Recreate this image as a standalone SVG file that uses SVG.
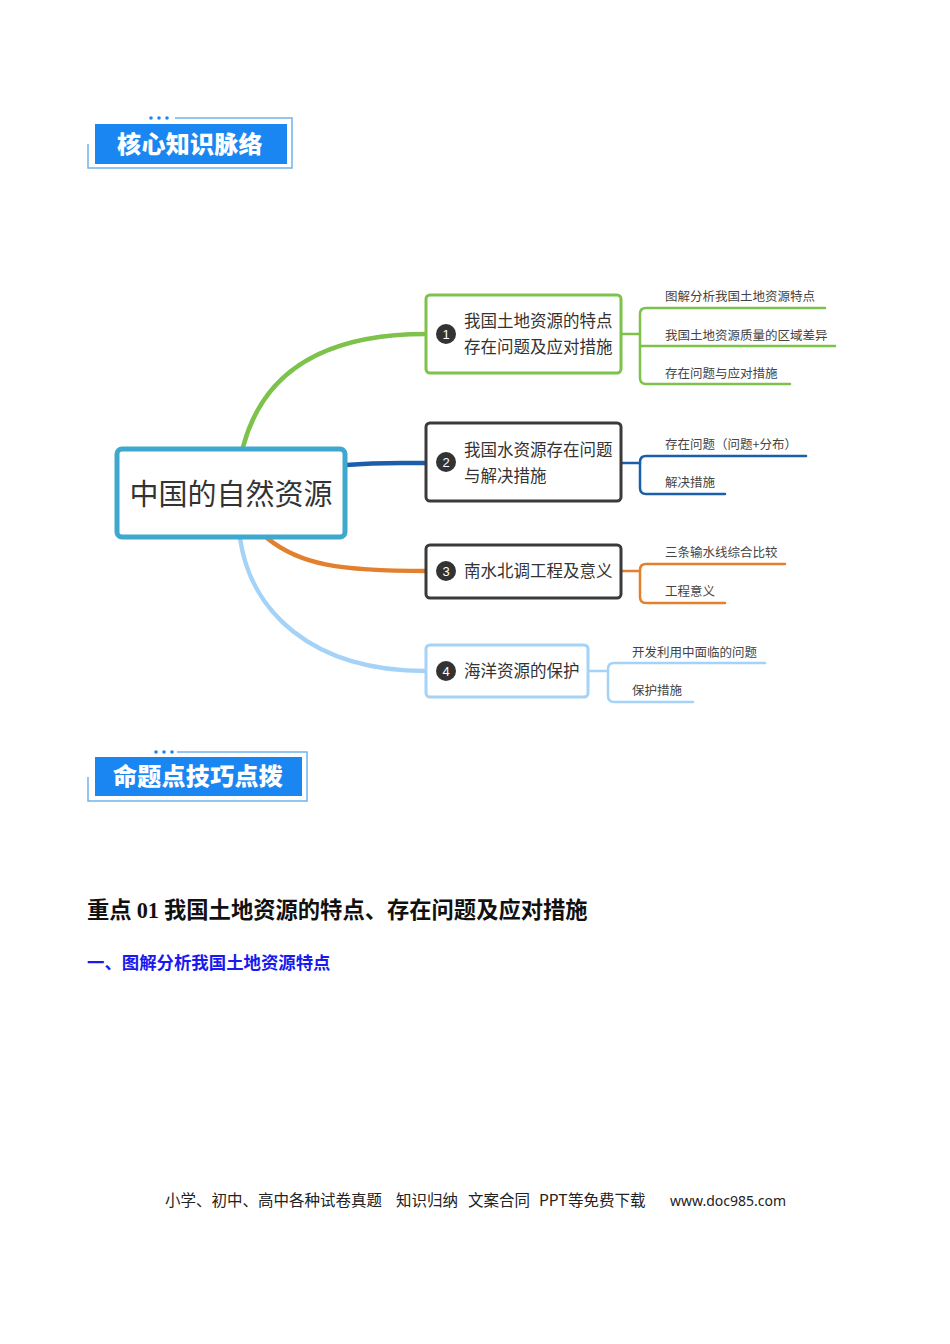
<svg xmlns="http://www.w3.org/2000/svg" width="950" height="1344" viewBox="0 0 950 1344">
<style>
.cjk{font-family:"Noto Sans CJK SC","Noto Sans",sans-serif}
.hdr{font-family:"Noto Sans CJK SC",sans-serif;font-weight:900;font-size:24px;fill:#fff;letter-spacing:0.3px}
.frame{fill:none;stroke:#6fb2ee;stroke-width:1.5}
.node{fill:#fff;stroke-width:3}
.nt{font-family:"Noto Sans CJK SC",sans-serif;font-size:16.5px;fill:#333}
.lbl{font-family:"Noto Sans CJK SC",sans-serif;font-size:12.5px;fill:#444}
.num{font-family:"Liberation Sans",sans-serif;font-size:13px;fill:#fff;text-anchor:middle}
.br{fill:none;stroke-width:2.5;stroke-linecap:round}
.main{fill:none;stroke-width:4.5;stroke-linecap:round}
</style>
<rect width="950" height="1344" fill="#fff"/>

<g id="header1">
<path class="frame" d="M175,118 H292 V168 H88 V144"/>
<circle cx="151" cy="118" r="1.8" fill="#1e88f0"/>
<circle cx="159" cy="118" r="1.8" fill="#1e88f0"/>
<circle cx="167" cy="118" r="1.8" fill="#1e88f0"/>
<rect x="95" y="124" width="192" height="40" fill="#1a86f2"/>
<text class="hdr" x="190" y="153" text-anchor="middle">核心知识脉络</text>
</g>

<g id="connectors">
<path class="main" stroke="#7dc24a" d="M243,447 C262,375 320,334 426,334"/>
<path class="main" stroke="#1b5faa" d="M346,465 C380,462 400,463 426,463"/>
<path class="main" stroke="#e3802e" d="M267,538 C300,565 340,571 426,571"/>
<path class="main" stroke="#a5d2f7" d="M240,538 C250,610 310,671 426,671"/>

<path class="br" stroke="#7dc24a" d="M621,334 H640"/>
<path class="br" stroke="#7dc24a" d="M825,308 H646 Q640,308 640,314 V378 Q640,384 646,384 H790"/>
<path class="br" stroke="#7dc24a" d="M640,346 H835"/>

<path class="br" stroke="#1b5faa" d="M621,463 H640"/>
<path class="br" stroke="#1b5faa" d="M806,456 H646 Q640,456 640,462 V488 Q640,494 646,494 H725"/>

<path class="br" stroke="#e3802e" d="M621,571 H640"/>
<path class="br" stroke="#e3802e" d="M785,564 H646 Q640,564 640,570 V597 Q640,603 646,603 H725"/>

<path class="br" stroke="#a5d2f7" d="M588,671 H608"/>
<path class="br" stroke="#a5d2f7" d="M765,663 H614 Q608,663 608,669 V696 Q608,702 614,702 H693"/>
</g>

<g id="center">
<rect x="117" y="449" width="228" height="88" rx="5" fill="#fff" stroke="#3ea8cf" stroke-width="5"/>
<text class="cjk" x="231" y="505" font-size="29" fill="#333" text-anchor="middle">中国的自然资源</text>
</g>

<g id="node1">
<rect class="node" x="426" y="295" width="195" height="78" rx="4" stroke="#7dc24a"/>
<circle cx="446" cy="334" r="10" fill="#333"/>
<text class="num" x="446" y="338.5">1</text>
<text class="nt" x="464" y="327">我国土地资源的特点</text>
<text class="nt" x="464" y="353">存在问题及应对措施</text>
<text class="lbl" x="665" y="301">图解分析我国土地资源特点</text>
<text class="lbl" x="665" y="340">我国土地资源质量的区域差异</text>
<text class="lbl" x="665" y="378">存在问题与应对措施</text>
</g>

<g id="node2">
<rect class="node" x="426" y="423" width="195" height="78" rx="4" stroke="#3a3a3a"/>
<circle cx="446" cy="462" r="10" fill="#333"/>
<text class="num" x="446" y="466.5">2</text>
<text class="nt" x="464" y="456">我国水资源存在问题</text>
<text class="nt" x="464" y="482">与解决措施</text>
<text class="lbl" x="665" y="449">存在问题（问题+分布）</text>
<text class="lbl" x="665" y="487">解决措施</text>
</g>

<g id="node3">
<rect class="node" x="426" y="545" width="195" height="53" rx="4" stroke="#3a3a3a"/>
<circle cx="446" cy="571" r="10" fill="#333"/>
<text class="num" x="446" y="575.5">3</text>
<text class="nt" x="464" y="577">南水北调工程及意义</text>
<text class="lbl" x="665" y="557">三条输水线综合比较</text>
<text class="lbl" x="665" y="596">工程意义</text>
</g>

<g id="node4">
<rect class="node" x="426" y="645" width="162" height="52" rx="4" stroke="#a5d2f7"/>
<circle cx="446" cy="671" r="10" fill="#333"/>
<text class="num" x="446" y="675.5">4</text>
<text class="nt" x="464" y="677">海洋资源的保护</text>
<text class="lbl" x="632" y="657">开发利用中面临的问题</text>
<text class="lbl" x="632" y="695">保护措施</text>
</g>

<g id="header2">
<path class="frame" d="M177,752 H307 V801 H88 V777"/>
<circle cx="156" cy="752" r="1.8" fill="#1e88f0"/>
<circle cx="164" cy="752" r="1.8" fill="#1e88f0"/>
<circle cx="172" cy="752" r="1.8" fill="#1e88f0"/>
<rect x="95" y="757" width="207" height="39" fill="#1a86f2"/>
<text class="hdr" x="198" y="785" text-anchor="middle">命题点技巧点拨</text>
</g>

<g id="texts">
<text x="87" y="918" font-family="'Noto Sans CJK SC',sans-serif" font-weight="bold" font-size="22.3" fill="#111">重点 <tspan font-family="'Liberation Serif',serif">01</tspan> 我国土地资源的特点、存在问题及应对措施</text>
<text x="87" y="969" font-family="'Noto Sans CJK SC',sans-serif" font-weight="bold" font-size="17.4" fill="#1a1aee">一、图解分析我国土地资源特点</text>
<text x="165" y="1206" font-family="'Noto Sans CJK SC',sans-serif" font-size="15.5" fill="#222">小学、初中、高中各种试卷真题<tspan x="396">知识归纳</tspan><tspan x="468">文案合同</tspan><tspan x="539">PPT</tspan><tspan x="568">等免费下载</tspan></text>
<text x="670" y="1206" font-family="'Noto Sans','Open Sans',sans-serif" font-size="14" fill="#222">www.doc985.com</text>
</g>
</svg>
